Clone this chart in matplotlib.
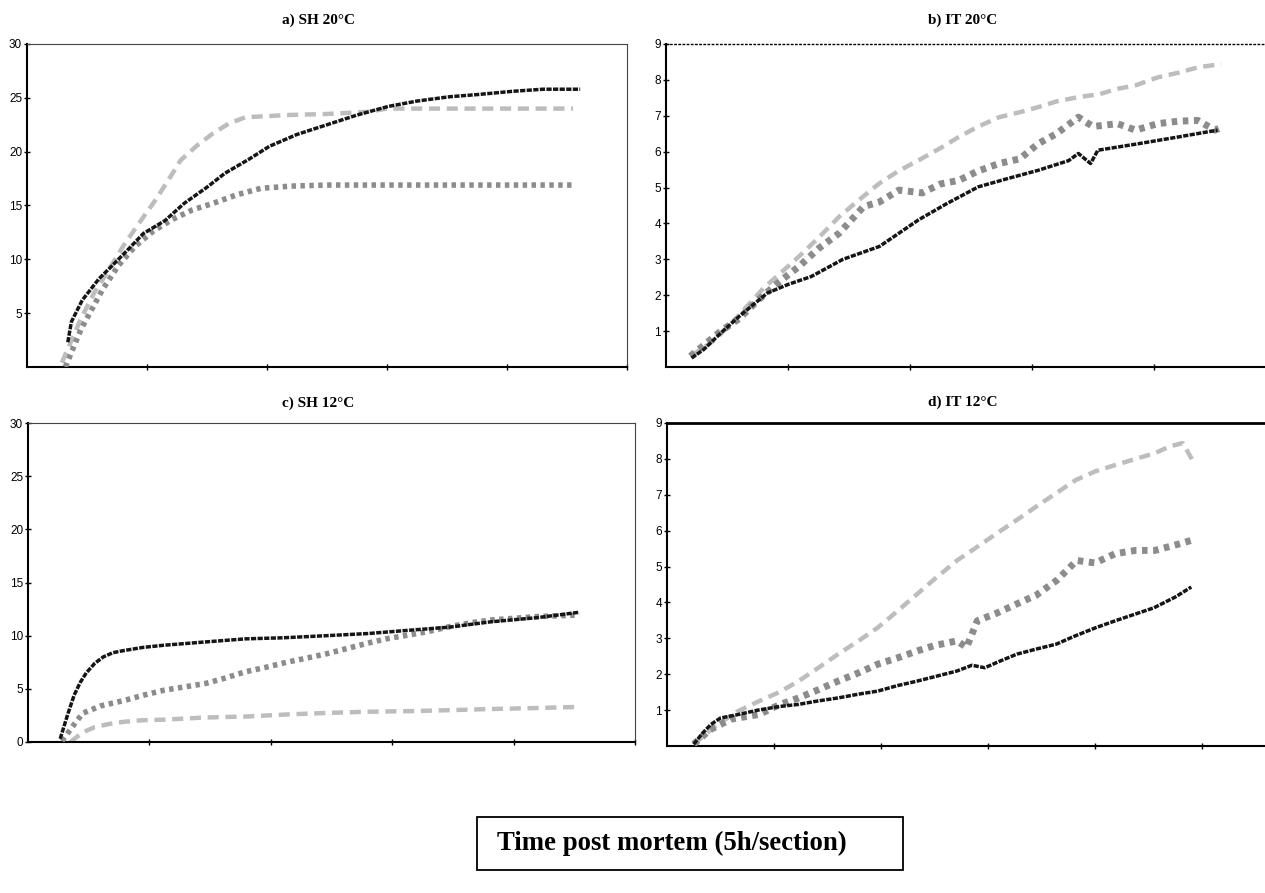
import matplotlib
matplotlib.use("Agg")
import matplotlib.pyplot as plt
from matplotlib.patches import Rectangle

W, H = 1265, 893

# ---- a) SH 20C (sections, value)
a_dark_x = [0.34, 0.37, 0.46, 0.6, 0.7, 0.85, 0.97, 1.15, 1.31, 1.5, 1.65, 1.85, 2.02, 2.25, 2.5, 2.75, 3.01, 3.25, 3.52, 3.75, 4.04, 4.3, 4.61]
a_dark_y = [2.3, 4.2, 6.2, 8.2, 9.3, 11.0, 12.4, 13.6, 15.2, 16.7, 18.0, 19.3, 20.5, 21.6, 22.5, 23.4, 24.2, 24.7, 25.1, 25.3, 25.6, 25.8, 25.8]
a_mid_x = [0.32, 0.45, 0.63, 0.76, 0.9, 1.05, 1.21, 1.38, 1.55, 1.75, 1.95, 2.2, 2.5, 3.0, 3.5, 4.0, 4.55]
a_mid_y = [0.0, 3.5, 7.2, 9.4, 11.2, 12.6, 13.7, 14.6, 15.2, 16.0, 16.6, 16.8, 16.9, 16.9, 16.9, 16.9, 16.9]
a_light_x = [0.29, 0.45, 0.56, 0.68, 0.8, 0.93, 1.07, 1.18, 1.28, 1.42, 1.55, 1.68, 1.82, 2.0, 2.16, 2.5, 2.84, 3.0, 3.3, 3.6, 3.9, 4.2, 4.55]
a_light_y = [0.4, 4.5, 6.9, 9.0, 11.2, 13.3, 15.5, 17.4, 19.2, 20.6, 21.7, 22.6, 23.2, 23.3, 23.4, 23.5, 23.7, 24.0, 24.0, 24.0, 24.0, 24.0, 24.0]

# ---- b) IT 20C
b_dark_x = [0.21, 0.31, 0.45, 0.6, 0.72, 0.83, 1.0, 1.19, 1.45, 1.75, 2.07, 2.3, 2.56, 2.8, 3.05, 3.3, 3.38, 3.48, 3.54, 3.87, 4.2, 4.52]
b_dark_y = [0.25, 0.49, 0.95, 1.41, 1.75, 2.06, 2.3, 2.52, 3.0, 3.36, 4.1, 4.55, 5.02, 5.25, 5.48, 5.75, 5.95, 5.67, 6.04, 6.22, 6.41, 6.6]
b_mid_x = [0.2, 0.45, 0.6, 0.76, 0.92, 1.09, 1.25, 1.42, 1.62, 1.75, 1.91, 2.1, 2.25, 2.4, 2.55, 2.73, 2.9, 3.05, 3.2, 3.38, 3.5, 3.7, 3.85, 4.03, 4.2, 4.36, 4.5, 4.57]
b_mid_y = [0.3, 1.0, 1.35, 1.88, 2.35, 2.8, 3.3, 3.73, 4.47, 4.6, 4.93, 4.85, 5.1, 5.2, 5.45, 5.67, 5.8, 6.22, 6.5, 6.96, 6.7, 6.78, 6.6, 6.78, 6.85, 6.87, 6.6, 6.7]
b_light_x = [0.2, 0.4, 0.6, 0.8, 0.95, 1.09, 1.25, 1.42, 1.58, 1.75, 1.9, 2.07, 2.25, 2.4, 2.56, 2.73, 2.9, 3.05, 3.2, 3.38, 3.55, 3.7, 3.85, 4.03, 4.2, 4.36, 4.55]
b_light_y = [0.3, 0.75, 1.45, 2.2, 2.65, 3.08, 3.6, 4.19, 4.65, 5.12, 5.45, 5.76, 6.1, 6.41, 6.7, 6.96, 7.1, 7.24, 7.4, 7.52, 7.6, 7.75, 7.85, 8.07, 8.2, 8.35, 8.44]

# ---- c) SH 12C
c_dark_x = [0.265, 0.33, 0.38, 0.43, 0.48, 0.55, 0.62, 0.7, 0.79, 0.95, 1.12, 1.45, 1.79, 2.1, 2.46, 2.8, 3.13, 3.47, 3.81, 4.2, 4.54]
c_dark_y = [0.3, 2.7, 4.4, 5.6, 6.5, 7.4, 8.0, 8.4, 8.6, 8.9, 9.1, 9.4, 9.7, 9.8, 10.0, 10.2, 10.5, 10.8, 11.3, 11.7, 12.2]
c_mid_x = [0.28, 0.37, 0.45, 0.6, 0.79, 0.95, 1.12, 1.3, 1.46, 1.62, 1.79, 1.95, 2.13, 2.3, 2.46, 2.63, 2.8, 2.95, 3.13, 3.3, 3.47, 3.64, 3.81, 4.2, 4.54]
c_mid_y = [0.1, 1.5, 2.7, 3.4, 3.9, 4.4, 4.87, 5.2, 5.5, 6.0, 6.6, 7.0, 7.5, 7.9, 8.3, 8.8, 9.3, 9.7, 10.05, 10.4, 10.84, 11.2, 11.47, 11.8, 11.94]
c_light_x = [0.35, 0.45, 0.55, 0.67, 0.79, 0.95, 1.12, 1.45, 1.8, 2.15, 2.5, 2.8, 3.13, 3.5, 3.8, 4.2, 4.54]
c_light_y = [0.0, 0.9, 1.4, 1.7, 1.9, 2.05, 2.1, 2.3, 2.4, 2.6, 2.75, 2.85, 2.9, 3.0, 3.1, 3.2, 3.3]

# ---- d) IT 12C
d_dark_x = [0.25, 0.33, 0.41, 0.5, 0.67, 0.85, 1.05, 1.23, 1.4, 1.6, 1.8, 1.97, 2.15, 2.34, 2.5, 2.71, 2.85, 2.97, 3.1, 3.27, 3.45, 3.64, 3.8, 4.01, 4.2, 4.38, 4.55, 4.75, 4.9]
d_dark_y = [0.05, 0.35, 0.6, 0.78, 0.88, 1.0, 1.1, 1.16, 1.25, 1.34, 1.45, 1.53, 1.68, 1.81, 1.93, 2.09, 2.25, 2.18, 2.35, 2.56, 2.7, 2.84, 3.05, 3.3, 3.5, 3.68, 3.85, 4.15, 4.43]
d_mid_x = [0.25, 0.4, 0.6, 0.86, 1.05, 1.23, 1.4, 1.6, 1.8, 1.97, 2.15, 2.34, 2.5, 2.71, 2.8, 2.9, 3.08, 3.27, 3.45, 3.64, 3.83, 4.0, 4.19, 4.38, 4.56, 4.75, 4.9]
d_mid_y = [0.05, 0.45, 0.75, 0.88, 1.15, 1.34, 1.55, 1.81, 2.05, 2.28, 2.45, 2.65, 2.8, 2.93, 2.75, 3.49, 3.7, 3.96, 4.2, 4.61, 5.17, 5.1, 5.36, 5.45, 5.45, 5.6, 5.73]
d_light_x = [0.25, 0.45, 0.65, 0.86, 1.05, 1.23, 1.4, 1.6, 1.8, 1.97, 2.15, 2.34, 2.5, 2.71, 2.9, 3.08, 3.27, 3.45, 3.64, 3.82, 4.0, 4.19, 4.38, 4.56, 4.7, 4.82, 4.91]
d_light_y = [0.05, 0.55, 0.95, 1.25, 1.5, 1.81, 2.15, 2.56, 2.95, 3.3, 3.75, 4.24, 4.65, 5.17, 5.55, 5.92, 6.3, 6.67, 7.05, 7.41, 7.65, 7.83, 8.0, 8.16, 8.35, 8.44, 7.97]

titles = ["a) SH 20\u00b0C", "b) IT 20\u00b0C", "c) SH 12\u00b0C", "d) IT 12\u00b0C"]
xlabel = "Time post mortem (5h/section)"

serif = ["Liberation Serif", "DejaVu Serif"]
narrow = ["Liberation Sans Narrow", "Liberation Sans", "DejaVu Sans"]


def px_axes(left, top, right, bottom):
    return [left / W, 1 - bottom / H, (right - left) / W, (bottom - top) / H]


def draw(ax, dark, mid, light, band=4.0):
    ax.plot(light[0], light[1], color="#bdbdbd", lw=3.2, ls=(0, (2.5, 1.5)), zorder=2)
    ax.plot(mid[0], mid[1], color="#8c8c8c", lw=band, ls=(0, (0.8, 0.8)), zorder=3)
    ax.plot(dark[0], dark[1], color="#151515", lw=2.5, ls=(0, (1.5, 0.4)), zorder=4)


fig = plt.figure(figsize=(W / 100, H / 100), dpi=100)

axa = fig.add_axes(px_axes(27, 44, 627, 367))
axb = fig.add_axes(px_axes(666, 44, 1276, 367))
axc = fig.add_axes(px_axes(28, 423, 635, 742))
axd = fig.add_axes(px_axes(667, 423, 1309, 746))

draw(axa, (a_dark_x, a_dark_y), (a_mid_x, a_mid_y), (a_light_x, a_light_y))
draw(axb, (b_dark_x, b_dark_y), (b_mid_x, b_mid_y), (b_light_x, b_light_y), band=5.0)
draw(axc, (c_dark_x, c_dark_y), (c_mid_x, c_mid_y), (c_light_x, c_light_y))
draw(axd, (d_dark_x, d_dark_y), (d_mid_x, d_mid_y), (d_light_x, d_light_y), band=5.0)

axa.set_xlim(0, 5); axa.set_ylim(0, 30)
axb.set_xlim(0, 5); axb.set_ylim(0, 9)
axc.set_xlim(0, 5); axc.set_ylim(0, 30)
axd.set_xlim(0, 6); axd.set_ylim(0, 9)

axa.set_yticks([5, 10, 15, 20, 25, 30])
axc.set_yticks([0, 5, 10, 15, 20, 25, 30])
axb.set_yticks(range(1, 10))
axd.set_yticks(range(1, 10))
for ax in (axa, axb, axc, axd):
    ax.set_xticks([1, 2, 3, 4, 5])

for ax in (axa, axb, axc, axd):
    ax.set_xticklabels([])
    ax.tick_params(direction="inout", length=5, width=1, labelsize=8.5, pad=1)
    for lab in ax.get_yticklabels():
        lab.set_family(narrow)
    ax.spines["left"].set_linewidth(1.5)
    ax.spines["bottom"].set_linewidth(1.5)

for ax in (axa, axc):
    ax.spines["top"].set_linewidth(0.8)
    ax.spines["right"].set_linewidth(0.8)
    ax.spines["top"].set_color("#444444")
    ax.spines["right"].set_color("#444444")

axb.spines["right"].set_visible(False)
axb.spines["top"].set_linestyle((0, (1, 2)))
axb.spines["top"].set_linewidth(1.0)
axd.spines["right"].set_visible(False)
axd.spines["top"].set_linewidth(2.0)

# panel titles
title_pos = [(318, 20), (963, 20), (318, 403), (963, 402)]
for t, (x, y) in zip(titles, title_pos):
    fig.text(x / W, 1 - y / H, t, ha="center", va="center",
             family=serif, weight="bold", fontsize=11)

# x label in a box
fig.add_artist(Rectangle((477 / W, 1 - 870 / H), (903 - 477) / W, 53 / H,
                         transform=fig.transFigure, fill=False, lw=1.3, ec="black"))
fig.text(497 / W, 1 - 843 / H, xlabel, ha="left", va="center",
         family=serif, weight="bold", fontsize=19.3)

fig.savefig("out.png", dpi=100)
